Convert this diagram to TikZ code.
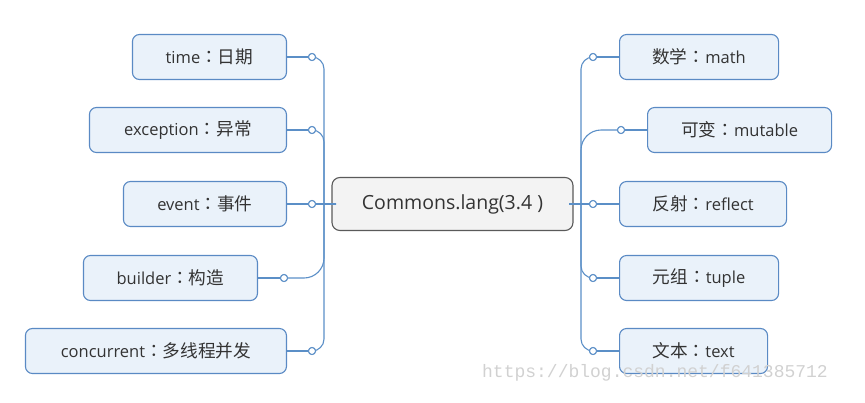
\documentclass[tikz,border=0pt]{standalone}
\usepackage{fontspec}
\setmainfont{Open Sans}
\newfontfamily\cjk[Scale=1.07]{Noto Sans CJK SC}
\newfontfamily\cjkp[Scale=1.07]{Noto Sans CJK TC}
\newfontfamily\wmfont{Liberation Mono}
\newcommand{\zc}{{\cjkp ：}}
\definecolor{lineblue}{HTML}{5B8FC7}
\definecolor{boxblue}{HTML}{5A8AC4}
\definecolor{boxfill}{HTML}{EAF2FA}
\definecolor{txt}{HTML}{333333}
\definecolor{cfill}{HTML}{F3F3F3}
\definecolor{cdraw}{HTML}{5A5A5A}
\tikzset{
  leaf/.style={draw=boxblue, fill=boxfill, rounded corners=7pt, line width=1.1pt,
    text=txt, font=\fontsize{16.5}{19}\selectfont, minimum height=45pt, inner sep=0pt},
  hub/.style={draw=cdraw, fill=cfill, rounded corners=8pt, line width=1.1pt,
    text=txt, font=\fontsize{19.5}{23}\selectfont, minimum height=53pt, minimum width=241pt, inner sep=0pt},
  conn/.style={draw=lineblue, line width=1.1pt, rounded corners=12pt},
  dot/.style={circle, draw=lineblue, fill=white, line width=1pt, minimum size=7pt, inner sep=0pt}
}
\begin{document}
\begin{tikzpicture}[x=1pt,y=-1pt]
\useasboundingbox (0,0) rectangle (865,402);
% hub
\node[hub] (c) at (452.5,204) {Commons.lang(3.4 )};
\coordinate (jL) at (324,204);
\coordinate (jR) at (581,204);
% left leaves
\node[leaf, anchor=east, minimum width=154pt] (time) at (287,57) {time\zc{\cjk 日期}};
\node[leaf, anchor=east, minimum width=197pt] (exc) at (287,130) {exception\zc{\cjk 异常}};
\node[leaf, anchor=east, minimum width=163pt] (evt) at (287,204) {event\zc{\cjk 事件}};
\node[leaf, anchor=east, minimum width=174pt] (bld) at (258,278) {builder\zc{\cjk 构造}};
\node[leaf, anchor=east, minimum width=261pt] (con) at (287,351) {concurrent\zc{\cjk 多线程并发}};
% right leaves
\node[leaf, anchor=west, minimum width=159pt] (math) at (619,57) {{\cjk 数学}\zc math};
\node[leaf, anchor=west, minimum width=184pt] (mut) at (647,130) {{\cjk 可变}\zc mutable};
\node[leaf, anchor=west, minimum width=167pt] (ref) at (619,204) {{\cjk 反射}\zc reflect};
\node[leaf, anchor=west, minimum width=159pt] (tup) at (619,278) {{\cjk 元组}\zc tuple};
\node[leaf, anchor=west, minimum width=148pt] (txtn) at (619,351) {{\cjk 文本}\zc text};
% dots
\node[dot] (dtime) at (312,57) {};
\node[dot] (dexc) at (312,130) {};
\node[dot] (devt) at (312,204) {};
\node[dot] (dbld) at (284,278) {};
\node[dot] (dcon) at (312,351) {};
\node[dot] (dmath) at (593,57) {};
\node[dot] (dmut) at (621,130) {};
\node[dot] (dref) at (593,204) {};
\node[dot] (dtup) at (593,278) {};
\node[dot] (dtxt) at (593,351) {};
% connectors left
\draw[conn] (time.east) -- (dtime.west);
\draw[conn] (exc.east) -- (dexc.west);
\draw[conn] (evt.east) -- (devt.west);
\draw[conn] (bld.east) -- (dbld.west);
\draw[conn] (con.east) -- (dcon.west);
\draw[conn] (dtime.east) -| (jL);
\draw[conn] (dexc.east) -| (jL);
\draw[conn] (devt.east) -- (jL) -- (c.west);
\draw[conn, rounded corners=20pt] (dbld.east) -| (jL);
\draw[conn] (dcon.east) -| (jL);
% connectors right
\draw[conn] (dmath.east) -- (math.west);
\draw[conn] (dmut.east) -- (mut.west);
\draw[conn] (dref.east) -- (ref.west);
\draw[conn] (dtup.east) -- (tup.west);
\draw[conn] (dtxt.east) -- (txtn.west);
\draw[conn] (jR) |- (dmath.west);
\draw[conn, rounded corners=20pt] (jR) |- (dmut.west);
\draw[conn] (c.east) -- (jR) -- (dref.west);
\draw[conn] (jR) |- (dtup.west);
\draw[conn] (jR) |- (dtxt.west);
% redraw dots on top
\foreach \d in {dtime,dexc,devt,dbld,dcon,dmath,dmut,dref,dtup,dtxt}
  \node[dot] at (\d) {};
% watermark
\node[text=black!18, font=\wmfont\fontsize{18}{20}\selectfont, inner sep=0pt] (wm) at (655,373) {https://blog.csdn.net/f641385712};
\end{tikzpicture}
\end{document}
